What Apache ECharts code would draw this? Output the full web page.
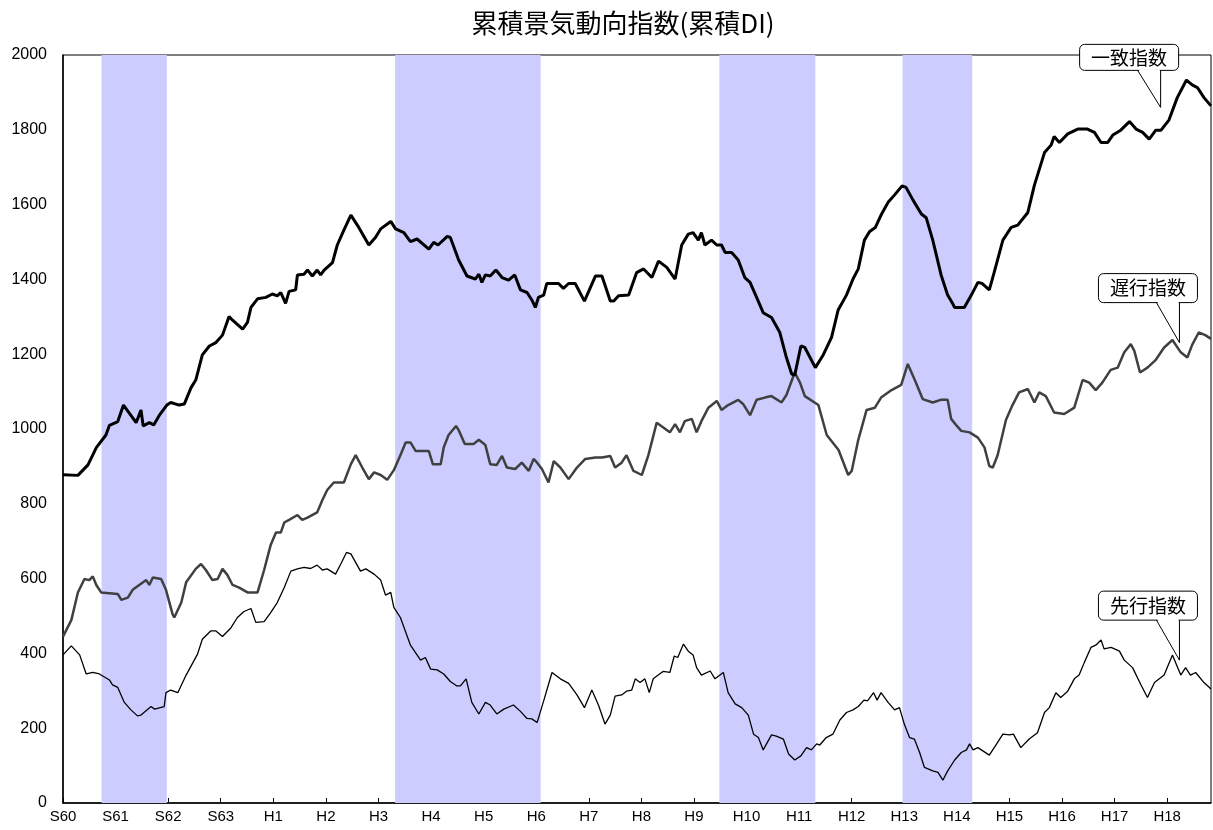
<!DOCTYPE html>
<html><head><meta charset="utf-8">
<script src="https://cdn.jsdelivr.net/npm/echarts@6/dist/echarts.min.js"></script>
<style>html,body{margin:0;padding:0;background:#fff}#main{width:1213px;height:830px}</style>
</head><body><div id="main"></div>
<script>
// x position = months since the first tick (S60)
const yearLabels = ['S60','S61','S62','S63','H1','H2','H3','H4','H5','H6','H7','H8','H9','H10','H11','H12','H13','H14','H15','H16','H17','H18'];

const recessionStarts = [8.8, 75.8, 149.8, 191.6];
const recessionEnds   = [23.7, 109.0, 171.7, 207.5];

const coincidentMonths = [0,3.4,5.7,7.6,9.8,10.6,12.5,13.8,16.7,17.8,18.3,19.7,20.7,22,23.7,24.6,26.5,27.7,29.2,30.3,31.8,33.4,34.9,36.4,37.9,38.7,41.0,42.1,42.9,44.4,46.3,47.8,48.9,49.7,50.8,51.6,53.1,53.5,55,55.8,56.9,58,58.8,59.6,61.5,62.6,64.1,65.7,67.5,69.8,71.3,72.5,74.8,75.9,77.8,79.3,80.8,83.5,84.6,85.6,87.7,88.4,90.3,92.2,94.1,94.9,95.6,96.4,97.5,98.8,100.2,101.7,103.1,104.4,105.9,107,107.8,108.5,109.7,110.4,113.1,114.2,115.4,116.9,119,121.5,123,124.9,125.7,126.8,129.1,130.9,132.5,134.4,135.9,137.8,139.7,141.2,142.7,143.8,145,145.7,146.5,148,149.2,150.3,151.1,152.6,154.1,155.6,156.8,158.3,159.8,161.7,163.6,165.1,166.3,167,168.4,169.3,171.7,173.5,175.4,176.9,178.8,180.3,181.5,182.9,184.1,185.4,186.7,188.3,189.8,191.5,192.4,194,195.9,197,198.5,200.4,201.9,203.1,203.5,205.7,207.3,208.8,209.8,211.4,212.5,214.5,216.4,217.9,220.2,221.7,224,225.5,226.2,227.4,229.3,231.6,233.8,235.4,236.9,238.4,239.6,241.4,243.4,244.9,246.4,247.9,249.4,250.6,252.4,254.3,256.4,257.7,258.9,260.4,262];
const coincidentValues = [878,876,904,950,984,1010,1020,1064,1017,1051,1008,1017,1011,1037,1064,1071,1064,1067,1110,1131,1198,1222,1231,1251,1301,1291,1267,1285,1325,1348,1352,1361,1356,1365,1336,1368,1372,1412,1414,1425,1409,1425,1412,1425,1445,1492,1532,1572,1539,1492,1512,1535,1555,1535,1525,1501,1508,1481,1499,1492,1515,1512,1452,1409,1401,1414,1392,1412,1409,1425,1405,1398,1412,1372,1365,1345,1325,1352,1358,1389,1389,1376,1389,1389,1342,1409,1409,1342,1342,1356,1358,1418,1428,1405,1449,1432,1401,1492,1521,1525,1505,1525,1492,1505,1492,1492,1472,1472,1452,1405,1392,1352,1311,1298,1258,1191,1147,1144,1222,1218,1164,1198,1245,1318,1358,1401,1428,1505,1528,1539,1572,1606,1626,1650,1646,1612,1575,1565,1505,1412,1358,1334,1325,1325,1358,1392,1389,1372,1418,1505,1539,1545,1579,1652,1739,1759,1782,1766,1789,1802,1802,1793,1766,1766,1786,1799,1822,1802,1793,1775,1799,1799,1826,1886,1933,1920,1913,1886,1864];

const laggingMonths = [0,1.9,3.4,4.9,6,6.8,7.6,8.7,12.5,13.3,14.8,15.9,17.4,19,19.7,20.5,22.4,23.5,25,25.4,27,28.1,30.3,31.5,32.6,34.1,35.3,36.4,37.5,38.7,40.2,42.1,44.4,45.9,47.4,48.6,49.7,50.5,51.6,53.5,54.6,55.8,58,59.2,60.3,61.8,64.1,65.7,66.8,68.3,69.8,71,72.5,74,75.5,77,78.2,79.3,80.5,83.5,84.4,86.2,86.9,88,89.7,90.3,91.7,93.7,94.9,96.4,97.5,99,100.2,101.3,103.2,104.7,106.3,107.4,108.2,109.3,110.8,112,113.5,115.4,117.3,119.2,121.5,123,124.9,126,127.5,128.6,130.2,132.1,133.6,135.5,137,138.5,139.7,140.8,141.9,143.5,144.6,145.7,147.3,149.2,150.3,151.8,154.1,155.2,156.8,158.3,160.2,161.7,164,165.1,167,168.2,169.3,172.4,174.3,177,179.2,180,181.5,183.4,185.3,186.7,189.1,191.3,192.8,194.4,196.2,198.5,200.3,201.9,202.7,203.8,205,206.9,208.8,210.3,211.4,212.2,213.3,215.2,216.7,218.2,220.2,221.7,222.8,224.3,226.2,228.5,230.8,232.7,234.2,235.7,237.2,239.1,240.7,242.2,243.7,244.5,245.8,247.5,249.4,251.3,253.2,255.1,256.6,257.7,259.2,260.7,262];
const laggingValues = [445,489,563,599,596,606,583,563,559,543,549,570,583,596,583,603,599,570,505,496,536,590,626,639,623,596,599,626,610,583,576,563,563,623,690,723,723,750,757,770,757,763,777,810,837,857,857,906,930,897,866,884,877,864,890,930,964,964,941,941,906,906,951,984,1008,997,960,960,971,957,906,904,928,897,893,910,888,920,910,893,857,914,897,866,897,920,924,924,928,897,910,930,888,877,930,1017,1004,991,1013,991,1021,1027,991,1021,1057,1075,1051,1064,1078,1067,1037,1078,1084,1088,1071,1091,1151,1124,1088,1064,984,944,877,888,971,1051,1057,1084,1104,1118,1174,1131,1080,1071,1078,1078,1027,1011,995,991,977,951,901,897,930,1024,1064,1098,1107,1071,1098,1088,1044,1040,1057,1131,1124,1104,1124,1158,1164,1205,1227,1209,1151,1164,1185,1218,1238,1205,1191,1225,1258,1251,1241];

const leadingMonths = [0,1.9,3.8,5.3,6.8,8.3,10.6,11.3,12.5,14,15.5,17,17.8,20.1,20.9,23.1,23.5,24.6,26.2,28.1,30.7,31.8,33.7,34.9,36.4,38.3,39.8,41.3,42.9,44,45.9,47.4,48.9,50.5,52,53.5,55,56.5,58,59.2,60.3,62.2,63.4,64.7,65.7,67.9,69.1,71,72.5,73.6,74.8,75.5,77,79.3,81.6,82.7,83.9,85.4,86.9,88.4,89.9,90.7,92,93.3,94.9,96.4,97.5,99,100.6,102.8,104.4,105.9,107,108.2,109.7,111.6,113.5,115.4,117.3,119,120.7,122.2,123.7,124.9,126,127.5,128.6,129.8,130.6,131.7,132.8,133.8,134.7,137,138.5,139.5,140.3,141.6,142.7,143.8,144.6,145.7,147.7,148.8,150.7,151.8,153.4,154.9,156.4,157.6,158.7,159.8,161.7,162.8,164.4,165.6,167,168.4,169.7,170.8,172,172.7,174.2,175.7,177.3,178.8,180.3,181.5,182.8,183.6,185,185.8,186.7,188.3,189.8,190.9,192,193.2,194.3,195.5,196.6,198.5,199.7,200.8,201.9,203.5,205,206.2,206.9,207.7,208.8,211.4,212.9,214.5,216,216.9,218.6,220.5,222.4,224,225.1,226.6,227.7,229.3,230.8,231.9,233.1,234.6,235.7,236.9,237.6,239.2,241.1,242.2,244.1,246,247.5,249.1,251.3,253.2,255.1,256.2,257.3,258.5,260.4,262];
const leadingValues = [396,420,396,345,349,345,329,316,309,269,249,233,235,258,251,258,295,302,295,342,398,438,460,460,445,468,496,512,520,483,485,509,536,576,620,626,630,627,636,623,626,612,639,670,666,620,626,612,596,556,563,523,496,422,382,389,358,356,345,325,313,313,332,269,238,269,262,238,251,262,245,226,225,215,273,349,332,320,289,255,302,262,211,235,286,289,299,302,332,322,332,295,332,352,349,393,389,425,406,396,362,342,353,332,349,295,265,255,235,184,175,142,182,179,171,131,115,126,148,142,158,155,175,184,222,242,249,258,275,273,295,275,295,269,249,255,211,175,171,135,95,86,82,61,86,115,135,142,158,142,148,128,155,184,182,184,148,171,188,242,255,295,282,299,332,342,376,416,422,436,412,416,406,382,362,316,282,322,342,396,342,362,342,349,322,305];

const calloutLabels = ['一致指数', '遅行指数', '先行指数'];
const calloutTipMonths = [250.5, 254.8, 254.8];
const calloutTipValues = [1860, 1231, 382];

const pairs = (xs, ys) => xs.map((x, i) => [x, ys[i]]);

const chart = echarts.init(document.getElementById('main'));
const axisFont = '"Liberation Sans", Arial, sans-serif';
chart.setOption({
  animation: false,
  backgroundColor: '#fff',
  title: {
    text: '累積景気動向指数(累積DI)',
    left: 618, top: 5, textAlign: 'center',
    textStyle: { fontFamily: '"Noto Sans CJK JP", sans-serif', fontSize: 26, fontWeight: 'normal', color: '#000' }
  },
  grid: { left: 63, right: 2, top: 55, bottom: 27, show: true, borderColor: '#000', borderWidth: 1, backgroundColor: 'transparent' },
  xAxis: {
    type: 'value', min: 0, max: 262, interval: 12,
    axisLine: { lineStyle: { color: '#000', width: 1.5 } },
    axisTick: { inside: true, length: 5, lineStyle: { color: '#000' } },
    axisLabel: {
      color: '#000', fontFamily: axisFont, fontSize: 15, margin: 6, showMaxLabel: false,
      formatter: v => (v % 12 === 0 && yearLabels[v / 12]) ? yearLabels[v / 12] : ''
    },
    splitLine: { show: false }
  },
  yAxis: {
    type: 'value', min: 0, max: 2000, interval: 200,
    axisLine: { show: true, lineStyle: { color: '#000', width: 1.5 } },
    axisTick: { show: false },
    axisLabel: { color: '#000', fontFamily: axisFont, fontSize: 16, margin: 16, formatter: v => String(v) },
    splitLine: { show: false }
  },
  series: [
    {
      type: 'line', name: 'recession', data: [], silent: true, z: 1,
      markArea: {
        silent: true,
        itemStyle: { color: '#ccccff', opacity: 1 },
        data: recessionStarts.map((s, i) => [{ xAxis: s }, { xAxis: recessionEnds[i] }])
      }
    },
    { type: 'line', name: '遅行指数', data: pairs(laggingMonths, laggingValues), showSymbol: false, z: 3,
      lineStyle: { color: '#404040', width: 2.5 } },
    { type: 'line', name: '先行指数', data: pairs(leadingMonths, leadingValues), showSymbol: false, z: 3,
      lineStyle: { color: '#000', width: 1.3 } },
    { type: 'line', name: '一致指数', data: pairs(coincidentMonths, coincidentValues), showSymbol: false, z: 4,
      lineStyle: { color: '#000', width: 3 } }
  ]
});

// callout boxes anchored to data positions
const els = [];
calloutLabels.forEach((label, i) => {
  const p = chart.convertToPixel({ gridIndex: 0 }, [calloutTipMonths[i], calloutTipValues[i]]);
  const tx = p[0], ty = p[1];
  const gap = i === 0 ? 37 : 40;
  const h = i === 0 ? 26 : 29;
  const B = ty - gap, T = B - h, L = tx - 81, R = tx + 18;
  const xa = tx - 23, xb = tx;
  els.push({ type: 'rect', z: 100, shape: { x: L, y: T, width: R - L, height: h, r: 5 },
    style: { fill: '#fff', stroke: '#000', lineWidth: 1 } });
  els.push({ type: 'polygon', z: 101, shape: { points: [[xa + 0.8, B - 1.2], [tx, ty], [xb - 0.8, B - 1.2]] },
    style: { fill: '#fff', stroke: null } });
  els.push({ type: 'polyline', z: 102, shape: { points: [[xa, B], [tx, ty], [xb, B]] },
    style: { fill: null, stroke: '#000', lineWidth: 1 } });
  els.push({ type: 'text', z: 103, x: (L + R) / 2, y: (T + B) / 2,
    style: { text: label, fill: '#000', font: '19px "Noto Sans CJK JP", sans-serif', align: 'center', verticalAlign: 'middle' } });
});
chart.setOption({ graphic: els });
</script>
</body></html>
